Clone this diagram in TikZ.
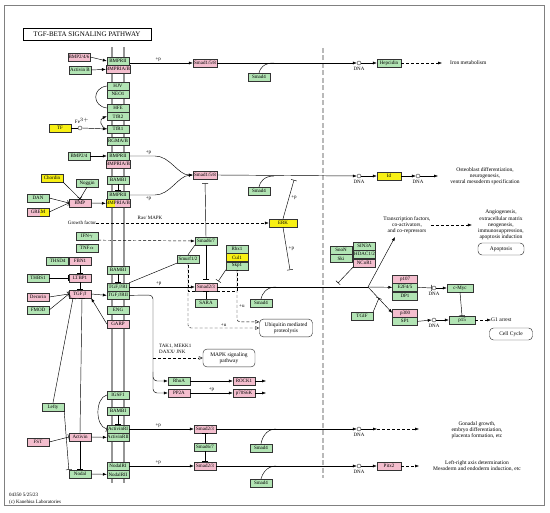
\documentclass[tikz,border=0pt]{standalone}
\usepackage{fontspec}
\setmainfont{Liberation Serif}
\usetikzlibrary{arrows.meta, positioning, calc}
\definecolor{kgreen}{RGB}{178,228,180}
\definecolor{kpink}{RGB}{244,190,206}
\definecolor{kyellow}{RGB}{248,240,20}
\definecolor{memgray}{RGB}{150,150,150}
\newcommand{\genefont}{\fontsize{5}{5.5}\selectfont}
\newcommand{\notefont}{\fontsize{5.5}{6.2}\selectfont}
\tikzset{
    gene/.style={
        rectangle,
        draw=black!80,
        line width=0.35pt,
        minimum width=22pt,
        minimum height=8pt,
        inner sep=0pt,
        font=\genefont
    },
    gn/.style={gene, fill=kgreen},
    pk/.style={gene, fill=kpink},
    yl/.style={gene, fill=kyellow},
    dna/.style={
        circle,
        draw=black!80,
        line width=0.4pt,
        minimum size=4pt,
        inner sep=0pt
    },
    link/.style={line width=0.45pt},
    arrow/.style={
        -{Latex[length=4pt,width=3pt]},
        line width=0.45pt
    },
    inhib/.style={
        -{Bar[width=6pt]},
        line width=0.45pt
    },
    dasharrow/.style={
        arrow,
        dash pattern=on 3pt off 2pt
    },
    openarrow/.style={
        -{Triangle[open,length=4pt,width=3.5pt]},
        line width=0.45pt,
        dash pattern=on 3pt off 2pt
    },
    note/.style={
        font=\notefont,
        align=center,
        inner sep=0pt
    },
    plabel/.style={
        font=\genefont,
        inner sep=0pt
    },
    mapbox/.style={
        rectangle,
        rounded corners=4pt,
        draw=black!80,
        line width=0.45pt,
        font=\notefont,
        align=center,
        minimum height=14pt
    },
    membrane/.style={
        line width=2.8pt,
        draw=memgray
    }
}

\begin{document}
\begin{tikzpicture}[x=1pt, y=-1pt]
    \useasboundingbox (0,0) rectangle (550,513);

    % Frame and title
    \draw[gray, line width=0.8pt] (4,5) rectangle (544,505);
    \node[draw, line width=0.6pt, minimum width=128pt, minimum height=12pt, inner sep=0pt, font=\fontsize{7}{8}\selectfont] (title) at (87,34) {TGF-BETA SIGNALING PATHWAY};

    % Membranes
    \draw[membrane] (112,47) -- (112,483);
    \draw[membrane] (124,47) -- (124,483);
    \draw[gray!55, line width=2pt, dash pattern=on 5pt off 2.5pt] (323,48) -- (323,478);

    % Receptor column
    \node[gn] (bmpr2a) at (118,61) {BMPRII};
    \node[pk, below=0pt of bmpr2a] (bmpr1a) {BMPRIA/B};
    \node[gn] (hjv) at (118,86) {HJV};
    \node[gn, below=0pt of hjv] (neo1) {NEO1};
    \node[gn] (hfe) at (118,108) {HFE};
    \node[gn, below=0pt of hfe] (tfr2) {TfR2};
    \node[gn] (tfr1) at (118,129) {TfR1};
    \node[gn] (rgm) at (118,141) {RGMA/B};
    \node[gn] (bmpr2b) at (118,156) {BMPRII};
    \node[pk, below=0pt of bmpr2b] (bmpr1b) {BMPRIA/B};
    \node[gn] (bambi1) at (118,180) {BAMBI};
    \node[gn] (bmpr2c) at (118,195) {BMPRII};
    \node[pk, below=0pt of bmpr2c, path picture={\fill[kyellow] (path picture bounding box.south west) rectangle ($(path picture bounding box.north west)+(9,0)$);}] (bmpr1c) {BMPRIA/B};
    \node[gn] (bambi2) at (118,270) {BAMBI};
    \node[gn] (tgfbr1) at (118,287) {TGF$\beta$RI};
    \node[gn, below=0pt of tgfbr1] (tgfbr2) {TGF$\beta$RII};
    \node[gn] (eng) at (118,310) {ENG};
    \node[pk] (garp) at (118,324) {GARP};
    \node[gn] (igsf1) at (118,395) {IGSF1};
    \node[gn] (bambi3) at (118,411) {BAMBI};
    \node[gn] (actr1) at (118,429) {ActivinRI};
    \node[gn, below=0pt of actr1] (actr2) {ActivinRII};
    \node[gn] (nodr1) at (118,466) {NodalRI};
    \node[gn, below=0pt of nodr1] (nodr2) {NodalRII};

    % Ligands and modulators
    \node[pk] (bmp246) at (79,57) {BMP2/4/6};
    \node[gn] (actb) at (80,70) {Activin B};
    \node[yl] (tf) at (60,128) {TF};
    \node[dna] (fe) at (80,128) {};
    \node[plabel] (felabel) at (82,121) {Fe$^{3+}$};
    \node[gn] (bmp24) at (79,156) {BMP2/4};
    \node[yl] (chordin) at (52,178) {Chordin};
    \node[gn] (noggin) at (87,183) {Noggin};
    \node[gn] (dan) at (38,198) {DAN};
    \node[pk, path picture={\fill[kyellow] (path picture bounding box.north east) rectangle ($(path picture bounding box.south east)+(-9,0)$);}] (grem) at (38,212) {GREM};
    \node[pk] (bmp) at (80,203) {BMP};
    \node[plabel] (gf) at (82,223) {Growth factor};
    \node[gn] (ifng) at (87,236) {IFN$\gamma$};
    \node[gn] (tnfa) at (87,248) {TNF$\alpha$};
    \node[pk] (fbn1) at (80,261) {FBN1};
    \node[gn, left=0pt of fbn1] (thsd4) {THSD4};
    \node[gn] (thbs1) at (38,278) {THBS1};
    \node[pk] (ltbp1) at (80,278) {LTBP1};
    \node[pk] (decorin) at (38,297) {Decorin};
    \node[gn] (fmod) at (38,310) {FMOD};
    \node[pk] (tgfb) at (80,294) {TGF$\beta$};
    \node[gn] (lefty) at (53,407) {Lefty};
    \node[pk] (fst) at (38,442) {FST};
    \node[pk] (activin) at (80,437) {Activin};
    \node[gn] (nodal) at (80,474) {Nodal};

    % Cytoplasm
    \node[pk, minimum width=24pt] (smad158a) at (205,63) {Smad1/5/8};
    \node[gn] (smad4a) at (259,77) {Smad4};
    \node[pk, minimum width=24pt] (smad158b) at (205,175) {Smad1/5/8};
    \node[gn] (smad4b) at (259,191) {Smad4};
    \node[yl, minimum width=28pt] (erk) at (283,223) {ERK};
    \node[gn] (smad67a) at (206,241) {Smad6/7};
    \node[gn] (smurf) at (188,259) {Smurf1/2};
    \node[gn] (rbx1) at (237,249) {Rbx1};
    \node[yl, below=0pt of rbx1] (cul1) {Cul1};
    \node[gn, below=0pt of cul1] (skp1) {Skp1};
    \node[pk] (smad23a) at (206,287) {Smad2/3};
    \node[gn] (sara) at (206,303) {SARA};
    \node[gn] (smad4c) at (261,303) {Smad4};
    \node[mapbox, minimum width=53pt] (ubiq) at (286,328) {Ubiquitin mediated\\proteolysis};
    \node[mapbox, minimum width=52pt] (mapk) at (229,358) {MAPK signaling\\pathway};
    \node[gn] (rhoa) at (179,381) {RhoA};
    \node[pk] (rock1) at (244,381) {ROCK1};
    \node[pk] (pp2a) at (179,393) {PP2A};
    \node[pk] (p70) at (244,393) {p70S6K};
    \node[pk] (smad23b) at (205,429) {Smad2/3};
    \node[gn] (smad67b) at (205,447) {Smad6/7};
    \node[pk] (smad23c) at (205,466) {Smad2/3};
    \node[gn] (smad4d) at (261,448) {Smad4};
    \node[gn] (smad4e) at (261,483) {Smad4};

    % Nucleus
    \node[dna] (dna1) at (359,63) {};
    \node[plabel, below=2pt of dna1] {DNA};
    \node[gn, minimum width=24pt] (hepc) at (389,63) {Hepcidin};
    \node[note, anchor=west] (iron) at (450,63) {Iron metabolism};
    \node[dna] (dna2) at (359,176) {};
    \node[plabel, below=2pt of dna2] {DNA};
    \node[yl, minimum width=24pt] (id) at (389,176) {Id};
    \node[dna] (dna3) at (418,176) {};
    \node[plabel, below=2pt of dna3] {DNA};
    \node[note] (osteo) at (485,176) {Osteoblast differentiation,\\neurogenesis,\\ventral mesoderm specification};
    \node[gn] (snon) at (341,250) {SnoN};
    \node[gn, below=0pt of snon] (ski) {Ski};
    \node[gn] (sin3a) at (364.5,246) {SIN3A};
    \node[gn, below=0pt of sin3a] (hdac) {HDAC1/2};
    \node[pk, below=0pt of hdac] (ncor1) {NCoR1};
    \node[note] (trans) at (407,225) {Transcription factors,\\co-activators,\\and co-repressors};
    \node[note] (angio) at (501,225) {Angiogenesis,\\extracellular matrix\\neogenesis,\\immunosuppression,\\apoptosis induction};
    \node[mapbox, minimum width=46pt, minimum height=12pt] (apop) at (501,249) {Apoptosis};
    \node[pk, minimum width=25pt] (p107) at (405,279) {p107};
    \node[gn, minimum width=25pt, below=0pt of p107] (e2f45) {E2F4/5};
    \node[gn, minimum width=25pt, below=0pt of e2f45] (dp1) {DP1};
    \node[pk, minimum width=25pt] (p300) at (405,313) {p300};
    \node[gn, minimum width=25pt, below=0pt of p300] (sp1) {SP1};
    \node[gn] (tgif) at (362,316) {TGIF};
    \node[dna] (dna4) at (434,288) {};
    \node[plabel, below=2pt of dna4] {DNA};
    \node[gn, minimum width=26pt] (cmyc) at (460,288) {c-Myc};
    \node[dna] (dna5) at (434,320) {};
    \node[plabel, below=2pt of dna5] {DNA};
    \node[gn, minimum width=26pt] (p15) at (462,320) {p15};
    \node[note, anchor=west] (g1) at (491,320) {G1 arrest};
    \node[mapbox, minimum width=43pt, minimum height=12pt] (cellcycle) at (511,334) {Cell Cycle};
    \node[dna] (dna6) at (359,429) {};
    \node[plabel, below=2pt of dna6] {DNA};
    \node[note] (gonad) at (477,430) {Gonadal growth,\\embryo differentiation,\\placenta formation, etc};
    \node[dna] (dna7) at (359,466) {};
    \node[plabel, below=2pt of dna7] {DNA};
    \node[pk, minimum width=24pt] (pitx2) at (389,466) {Pitx2};
    \node[note] (leftright) at (477,466) {Left-right axis determination\\Mesoderm and endoderm induction, etc};

    % Labels
    \node[plabel] (rasmapk) at (150,218) {Ras/ MAPK};
    \node[plabel, anchor=west, align=left] (tak) at (159,349) {TAK1, MEKK1\\DAXX/ JNK};
    \node[plabel, anchor=west] (ver) at (9,495) {04350 5/25/23};
    \node[plabel, anchor=west] (copy) at (9,502) {(c) Kanehisa Laboratories};

    % Free ends
    \coordinate (j1) at (274,63);
    \coordinate (j2) at (274,176);
    \coordinate (j3) at (276,287);
    \coordinate (j4) at (276,429);
    \coordinate (j5) at (276,466);
    \coordinate (ironend) at (442,63);
    \coordinate (osteoend) at (438,176);
    \coordinate (erkup) at (294,180);
    \coordinate (erkdown) at (290,270);
    \coordinate (branch) at (368,287);
    \coordinate (tfend) at (395,237);
    \coordinate (snonbar) at (338,283);
    \coordinate (tgifbar) at (379,298);
    \coordinate (takturn) at (153,295);
    \coordinate (takmap) at (153,358);
    \coordinate (takmid) at (153,372);
    \coordinate (rockend) at (266,381);
    \coordinate (p70end) at (266,393);
    \coordinate (gonadstart) at (377,429);
    \coordinate (gonadend) at (419,429);
    \coordinate (pitxend) at (419,466);

    % Hepcidin branch
    \draw[arrow] (bmp246.east) -- (bmpr2a.west);
    \draw[arrow] (actb.east) -- (bmpr1a.west);
    \draw[link] (hjv.west) .. controls (92,88) and (92,106) .. (hfe.west);
    \draw[arrow] (tfr1.west) .. controls (100,127) and (99,119) .. (tfr2.west);
    \draw[link] (tf.east) -- (fe.west);
    \draw[arrow] (fe.east) -- (tfr1.west);
    \draw[arrow] (bmpr1a.east |- smad158a) -- node[plabel, above=1.5pt, pos=0.45] {+p} (smad158a.west);
    \draw[arrow] (smad158a.east) -- (dna1.west);
    \draw[link] (smad4a.north) .. controls (260,68) and (264,63) .. (j1);
    \draw[arrow] (dna1.east) -- (hepc.west);
    \draw[dasharrow] (hepc.east) -- (ironend);

    % BMP branch
    \draw[arrow] (bmp24.east) -- (bmpr2b.west);
    \draw[arrow] (bmpr2b.east) -- node[plabel, above=1.5pt, pos=0.75] {+p} (155,156) .. controls (170,156) and (178,175) .. (smad158b.west);
    \draw[arrow] (bmpr2c.east) -- node[plabel, below=1.5pt, pos=0.75] {+p} (155,195) .. controls (170,195) and (178,176) .. (smad158b.west);
    \draw[inhib] (bambi1.south) -- (bmpr2c.north);
    \draw[arrow] (bmp.east) -- (bmpr1c.west);
    \draw[inhib] (chordin.south east) -- (bmp.north);
    \draw[inhib] (noggin.south) -- (bmp.north);
    \draw[inhib] (dan.east) -- (bmp.west);
    \draw[inhib] (grem.east) -- (bmp.west);
    \draw[arrow] (smad158b.east) -- (dna2.west);
    \draw[link] (smad4b.north) .. controls (260,182) and (264,176) .. (j2);
    \draw[arrow] (dna2.east) -- (id.west);
    \draw[arrow] (id.east) -- (dna3.west);
    \draw[arrow] (dna3.east) -- (osteoend);

    % Growth factor and ERK
    \draw[dasharrow] (gf.east) -- (erk.west);
    \draw[inhib] (erk.north) -- node[plabel, right=2pt, pos=0.55] {+p} (erkup);
    \draw[inhib] (erk.south) -- node[plabel, right=2pt, pos=0.5] {+p} (erkdown);
    \draw[dasharrow] (ifng.south east) -- (smad67a.west);
    \draw[inhib, shorten >=4pt] (smad67a.north) -- (smad158b.south);
    \draw[inhib, shorten >=3pt] (smad67a.south) -- (smad23a.north);
    \draw[link] (smurf.north) -- (smad67a.south west);
    \draw[link] (smurf.south west) -- (tgfbr1.north east);

    % TGF-beta branch
    \draw[inhib] (fbn1.south) -- (ltbp1.north);
    \draw[inhib] (thbs1.east) -- (ltbp1.west);
    \draw[inhib] (ltbp1.south) -- (tgfb.north);
    \draw[inhib] (decorin.east) -- (tgfb.west);
    \draw[inhib] (fmod.east) -- (tgfb.west);
    \draw[arrow] (garp.west) -- (tgfb.south east);
    \draw[arrow] (tgfb.east) -- (tgfbr2.west);
    \draw[inhib] (bambi2.south) -- (tgfbr1.north);
    \draw[arrow] (tgfbr1.east) -- node[plabel, above=1.5pt, pos=0.45] {+p} (smad23a.west);
    \draw[inhib] (sara.north) -- (smad23a.south);
    \draw[inhib, shorten >=2pt] (skp1.south west) -- (smad23a.north east);
    \draw[openarrow, rounded corners=3pt] (smurf.south) |- node[plabel, pos=0.75, above=1.5pt] {+u} (ubiq.west);
    \draw[openarrow, rounded corners=3pt] (skp1.south) |- node[plabel, pos=0.35, right=2pt] {+u} ($(ubiq.north west)+(0,3)$);
    \draw[link, dash pattern=on 3pt off 2pt] (smad23a.south west) -| (smurf.south);
    \draw[link, dash pattern=on 3pt off 2pt] (smad23a.south east) -| (skp1.south);
    \draw[link] (smad23a.east) -- (branch);
    \draw[link] (smad4c.north) .. controls (262,294) and (266,287) .. (j3);
    \draw[arrow] (branch) -- (e2f45.west);
    \draw[arrow] (branch) -- (tfend);
    \draw[arrow] (branch) -- (p300.west);
    \draw[inhib] (ncor1.south west) -- (snonbar);
    \draw[inhib] (tgif.north east) -- (tgifbar);
    \draw[dasharrow, shorten >=6pt] (trans.east) -- (angio.west);
    \draw[inhib] (e2f45.east) -- (dna4.west);
    \draw[arrow] (dna4.east) -- (cmyc.west);
    \draw[arrow] (sp1.east) -- (dna5.west);
    \draw[arrow] (dna5.east) -- (p15.west);
    \draw[inhib] (cmyc.south) -- (p15.north);
    \draw[dasharrow] (p15.east) -- (g1.west);

    % Non-Smad branch
    \draw[link, rounded corners=4pt] (tgfbr2.east) -- (takturn) -- (takmid);
    \draw[openarrow] (takmap) -- (mapk.west);
    \draw[arrow, rounded corners=4pt] (takmid) |- (rhoa.west);
    \draw[arrow, rounded corners=4pt] (takmid) |- (pp2a.west);
    \draw[arrow] (rhoa.east) -- (rock1.west);
    \draw[arrow] (pp2a.east) -- node[plabel, above=1.5pt] {+p} (p70.west);
    \draw[arrow] (rock1.east) -- (rockend);
    \draw[arrow] (p70.east) -- (p70end);

    % Activin and Nodal branch
    \draw[inhib] (lefty.north) -- ($(tgfb.south)+(-7,0)$);
    \draw[inhib] (activin.north) -- ($(tgfb.south)+(2,0)$);
    \draw[inhib] (lefty.south east) -- (nodal.north west);
    \draw[inhib] (activin.south) -- (nodal.north);
    \draw[inhib] (fst.east) -- (activin.west);
    \draw[arrow] (activin.east) -- (actr2.west);
    \draw[arrow] (nodal.east) -- (nodr2.west);
    \draw[inhib] (igsf1.west) .. controls (95,398) and (95,426) .. (actr1.west);
    \draw[inhib] (bambi3.south) -- (actr1.north);
    \draw[arrow] (actr1.east) -- node[plabel, above=1.5pt, pos=0.45] {+p} (smad23b.west);
    \draw[arrow] (nodr1.east) -- node[plabel, above=1.5pt, pos=0.45] {+p} (smad23c.west);
    \draw[inhib] (smad67b.north) -- (smad23b.south);
    \draw[inhib] (smad67b.south) -- (smad23c.north);
    \draw[arrow] (smad23b.east) -- (dna6.west);
    \draw[link] (smad4d.north) .. controls (262,438) and (266,429) .. (j4);
    \draw[arrow] (smad23c.east) -- (dna7.west);
    \draw[link] (smad4e.north) .. controls (262,475) and (266,466) .. (j5);
    \draw[arrow] (dna6.east) -- (gonadstart);
    \draw[dasharrow] (gonadstart) -- (gonadend);
    \draw[arrow] (dna7.east) -- (pitx2.west);
    \draw[dasharrow] (pitx2.east) -- (pitxend);

\end{tikzpicture}
\end{document}
